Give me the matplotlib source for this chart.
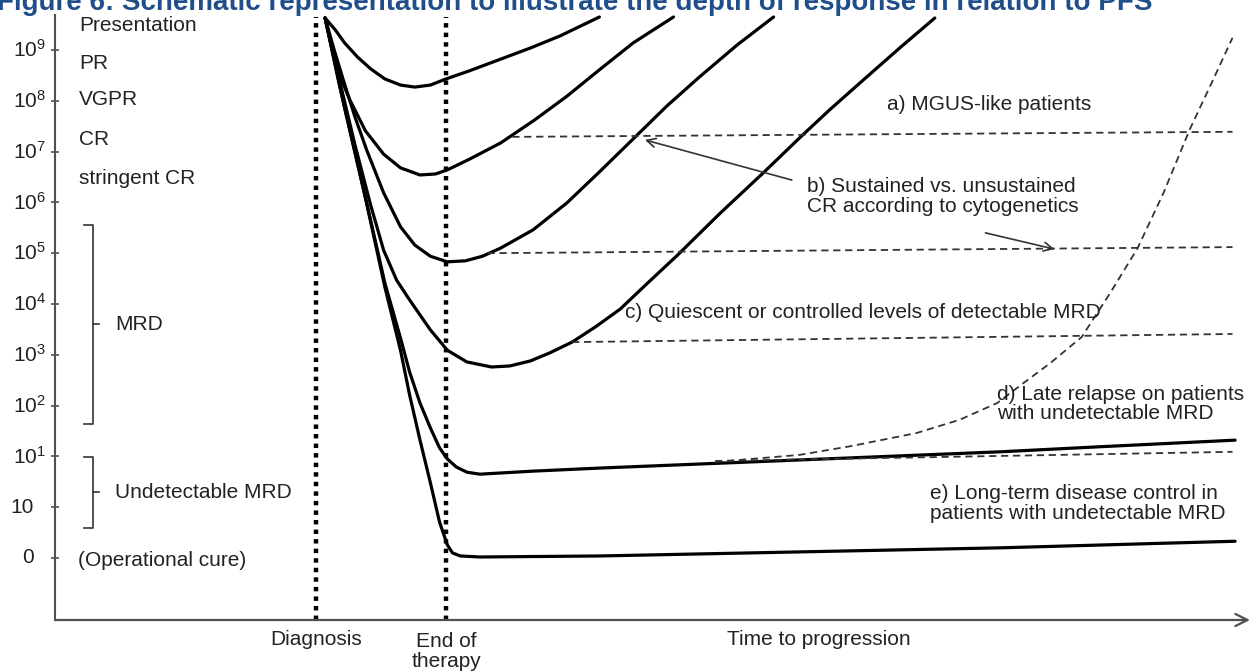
import matplotlib
matplotlib.use('Agg')
import matplotlib.pyplot as plt

plt.rcParams['font.family'] = ['Liberation Sans', 'DejaVu Sans']
plt.rcParams['mathtext.fontset'] = 'custom'
plt.rcParams['mathtext.rm'] = 'Liberation Sans'
plt.rcParams['mathtext.it'] = 'Liberation Sans:italic'

# ── data ─────────────────────────────────────────────────────────────────────
# time in arbitrary units (diagnosis = 0, end of therapy = 1)
# level = tick index of the tumour-burden axis (0 = operational cure, 10 = 10^9)
diagnosis_t = 0.0
end_therapy_t = 1.0

level_ticks = list(range(11))
level_labels = ['0', '10', '$10^1$', '$10^2$', '$10^3$', '$10^4$',
                '$10^5$', '$10^6$', '$10^7$', '$10^8$', '$10^9$']

response_labels = ['Presentation', 'PR', 'VGPR', 'CR', 'stringent CR']
response_levels = [10.49, 9.74, 9.02, 8.23, 7.48]

mrd_range = (2.64, 6.56)
undetectable_range = (0.59, 1.99)

# solid patient curves
c1_t = [0.07, 0.15, 0.22, 0.32, 0.42, 0.53, 0.65, 0.76, 0.88, 1.00, 1.18, 1.42, 1.65, 1.88, 2.18]
c1_y = [10.63, 10.39, 10.14, 9.86, 9.63, 9.43, 9.31, 9.27, 9.31, 9.43, 9.59, 9.82, 10.04, 10.28, 10.65]

c2_t = [0.07, 0.13, 0.19, 0.26, 0.38, 0.52, 0.65, 0.80, 0.92, 1.01, 1.18, 1.42, 1.68, 1.93, 2.18, 2.44, 2.75]
c2_y = [10.63, 10.00, 9.45, 9.02, 8.41, 7.95, 7.68, 7.54, 7.56, 7.64, 7.85, 8.17, 8.62, 9.09, 9.61, 10.14, 10.65]

c3_t = [0.07, 0.14, 0.21, 0.30, 0.39, 0.52, 0.65, 0.76, 0.88, 1.01, 1.15, 1.28, 1.42, 1.67,
        1.93, 2.18, 2.44, 2.70, 2.95, 3.24, 3.52]
c3_y = [10.63, 10.00, 9.41, 8.68, 8.03, 7.19, 6.52, 6.16, 5.94, 5.83, 5.85, 5.94, 6.10, 6.46,
        6.99, 7.60, 8.25, 8.90, 9.47, 10.10, 10.65]

c4_t = [0.07, 0.18, 0.30, 0.42, 0.52, 0.62, 0.72, 0.88, 1.01, 1.16, 1.35, 1.49, 1.65, 1.80,
        1.97, 2.15, 2.34, 2.55, 2.78, 3.11, 3.44, 3.72, 3.95, 4.21, 4.49, 4.76]
c4_y = [10.63, 9.41, 8.13, 6.95, 6.06, 5.47, 5.08, 4.49, 4.09, 3.86, 3.76, 3.78, 3.88, 4.04,
        4.25, 4.55, 4.90, 5.41, 5.96, 6.79, 7.58, 8.27, 8.82, 9.41, 10.04, 10.63]

c5_t = [0.07, 0.18, 0.30, 0.42, 0.53, 0.65, 0.72, 0.80, 0.88, 0.95, 1.01, 1.08, 1.16, 1.26,
        1.67, 2.18, 2.95, 3.72, 4.49, 5.26, 6.03, 7.07]
c5_y = [10.63, 9.31, 7.99, 6.65, 5.41, 4.33, 3.66, 3.05, 2.56, 2.17, 1.95, 1.79, 1.69, 1.65,
        1.71, 1.77, 1.85, 1.93, 2.01, 2.09, 2.19, 2.32]

c6_t = [0.07, 0.22, 0.38, 0.53, 0.65, 0.72, 0.80, 0.88, 0.95, 1.01, 1.05, 1.11, 1.26,
        2.18, 3.72, 5.26, 7.07]
c6_y = [10.63, 8.86, 7.09, 5.33, 4.09, 3.21, 2.32, 1.48, 0.71, 0.26, 0.10, 0.04, 0.02,
        0.04, 0.12, 0.20, 0.33]

# dashed plateaus / late relapse
a_t, a_y = [1.51, 7.05], [8.29, 8.39]
b_t, b_y = [1.32, 7.05], [6.00, 6.12]
c_t, c_y = [1.97, 7.05], [4.25, 4.41]
e_t, e_y = [3.07, 7.05], [1.91, 2.09]
d_t = [3.07, 3.72, 4.11, 4.62, 4.95, 5.24, 5.44, 5.65, 5.89, 6.11, 6.32, 6.52, 6.72, 6.90, 7.05]
d_y = [1.89, 2.03, 2.20, 2.46, 2.72, 3.05, 3.44, 3.84, 4.35, 5.22, 6.10, 7.19, 8.43, 9.41, 10.24]

# ─────────────────────────────────────────────────────────────────────────────
TXT = '#222222'
AX = '#505050'
FS = 15

fig = plt.figure(figsize=(12.56, 6.72), dpi=100)
ax = fig.add_axes([55 / 1256, 52 / 672, 1195 / 1256, 605 / 672])
ax.set_xlim(-2.0077, 7.1846)
ax.set_ylim(-1.2205, 10.689)

for s in ['top', 'right', 'bottom']:
    ax.spines[s].set_visible(False)
ax.spines['left'].set_color(AX)
ax.spines['left'].set_linewidth(1.5)
ax.set_xticks([])
ax.set_yticks(level_ticks)
ax.set_yticklabels([])
ax.tick_params(axis='y', direction='inout', length=6, width=1.2, color=AX)

# x axis with arrow head
ax.annotate('', xy=(1.0, 0.0), xytext=(0.0, 0.0), xycoords='axes fraction',
            arrowprops=dict(arrowstyle='->', color=AX, lw=1.6,
                            mutation_scale=22, shrinkA=0, shrinkB=0))

# tick labels (base right-aligned, exponents sticking out)
ylab_tr = ax.get_yaxis_transform()
for lv, lab in zip(level_ticks, level_labels):
    if lab.startswith('$'):
        ax.text(-42 / 1195, lv, lab, transform=ylab_tr, ha='left', va='center',
                fontsize=FS, color=TXT)
    else:
        ax.text(-21 / 1195, lv, lab, transform=ylab_tr, ha='right', va='center',
                fontsize=FS, color=TXT)

for lab, lv in zip(response_labels, response_levels):
    ax.text(-1.823, lv, lab, ha='left', va='center', fontsize=FS, color=TXT)
ax.text(-1.831, -0.04, '(Operational cure)', ha='left', va='center',
        fontsize=FS, color=TXT)


def bracket(lo, hi, label):
    x0, x1, x2 = -1.785, -1.715, -1.669
    ax.plot([x0, x1, x1, x0], [hi, hi, lo, lo], color='#333333', lw=1.2)
    mid = (lo + hi) / 2
    ax.plot([x1, x2], [mid, mid], color='#333333', lw=1.2)
    ax.text(-1.546, mid, label, ha='left', va='center', fontsize=FS, color=TXT)


bracket(*mrd_range, 'MRD')
bracket(*undetectable_range, 'Undetectable MRD')

# dotted time markers
for t in (diagnosis_t, end_therapy_t):
    ax.axvline(t, ymin=0, ymax=0.997, color='black', lw=3.2,
               linestyle=(0, (1.0, 1.15)), dash_capstyle='butt')

# solid curves
for xs, ys in [(c1_t, c1_y), (c2_t, c2_y), (c3_t, c3_y),
               (c4_t, c4_y), (c5_t, c5_y), (c6_t, c6_y)]:
    ax.plot(xs, ys, color='black', lw=2.3, solid_joinstyle='round',
            solid_capstyle='round', clip_on=False)

# dashed lines
for xs, ys in [(a_t, a_y), (b_t, b_y), (c_t, c_y), (e_t, e_y), (d_t, d_y)]:
    ax.plot(xs, ys, color='#333333', lw=1.3, linestyle=(0, (4, 2.6)),
            clip_on=False)

# annotations
ax.text(4.39, 8.92, 'a) MGUS-like patients', ha='left', va='center',
        fontsize=FS, color=TXT)
ax.text(3.78, 7.11, 'b) Sustained vs. unsustained\nCR according to cytogenetics',
        ha='left', va='center', fontsize=FS, color=TXT, linespacing=1.05)
ax.text(2.38, 4.84, 'c) Quiescent or controlled levels of detectable MRD',
        ha='left', va='center', fontsize=FS, color=TXT)
ax.text(5.24, 3.03, 'd) Late relapse on patients\nwith undetectable MRD',
        ha='left', va='center', fontsize=FS, color=TXT, linespacing=1.05)
ax.text(4.72, 1.08, 'e) Long-term disease control in\npatients with undetectable MRD',
        ha='left', va='center', fontsize=FS, color=TXT, linespacing=1.05)

arrow = dict(arrowstyle='->', color='#333333', lw=1.2, mutation_scale=16,
             shrinkA=0, shrinkB=0)
ax.annotate('', xy=(2.53, 8.23), xytext=(3.66, 7.44), arrowprops=arrow)
ax.annotate('', xy=(5.68, 6.08), xytext=(5.15, 6.40), arrowprops=arrow)

# x labels
xlab_tr = ax.get_xaxis_transform()
ax.text(diagnosis_t, -0.033, 'Diagnosis', transform=xlab_tr, ha='center',
        va='center', fontsize=FS, color=TXT)
ax.text(end_therapy_t, -0.052, 'End of\ntherapy', transform=xlab_tr, ha='center',
        va='center', fontsize=FS, color=TXT, linespacing=1.05)
ax.text(3.87, -0.033, 'Time to progression', transform=xlab_tr, ha='center',
        va='center', fontsize=FS, color=TXT)

# figure caption, cropped at the top edge as in the source
fig.text(-0.002, 1 - 10 / 672,
         'Figure 6: Schematic representation to illustrate the depth of response in relation to PFS',
         ha='left', va='baseline', fontsize=20, fontweight='bold', color='#1f4e8a')

fig.savefig('out.png', dpi=100)
